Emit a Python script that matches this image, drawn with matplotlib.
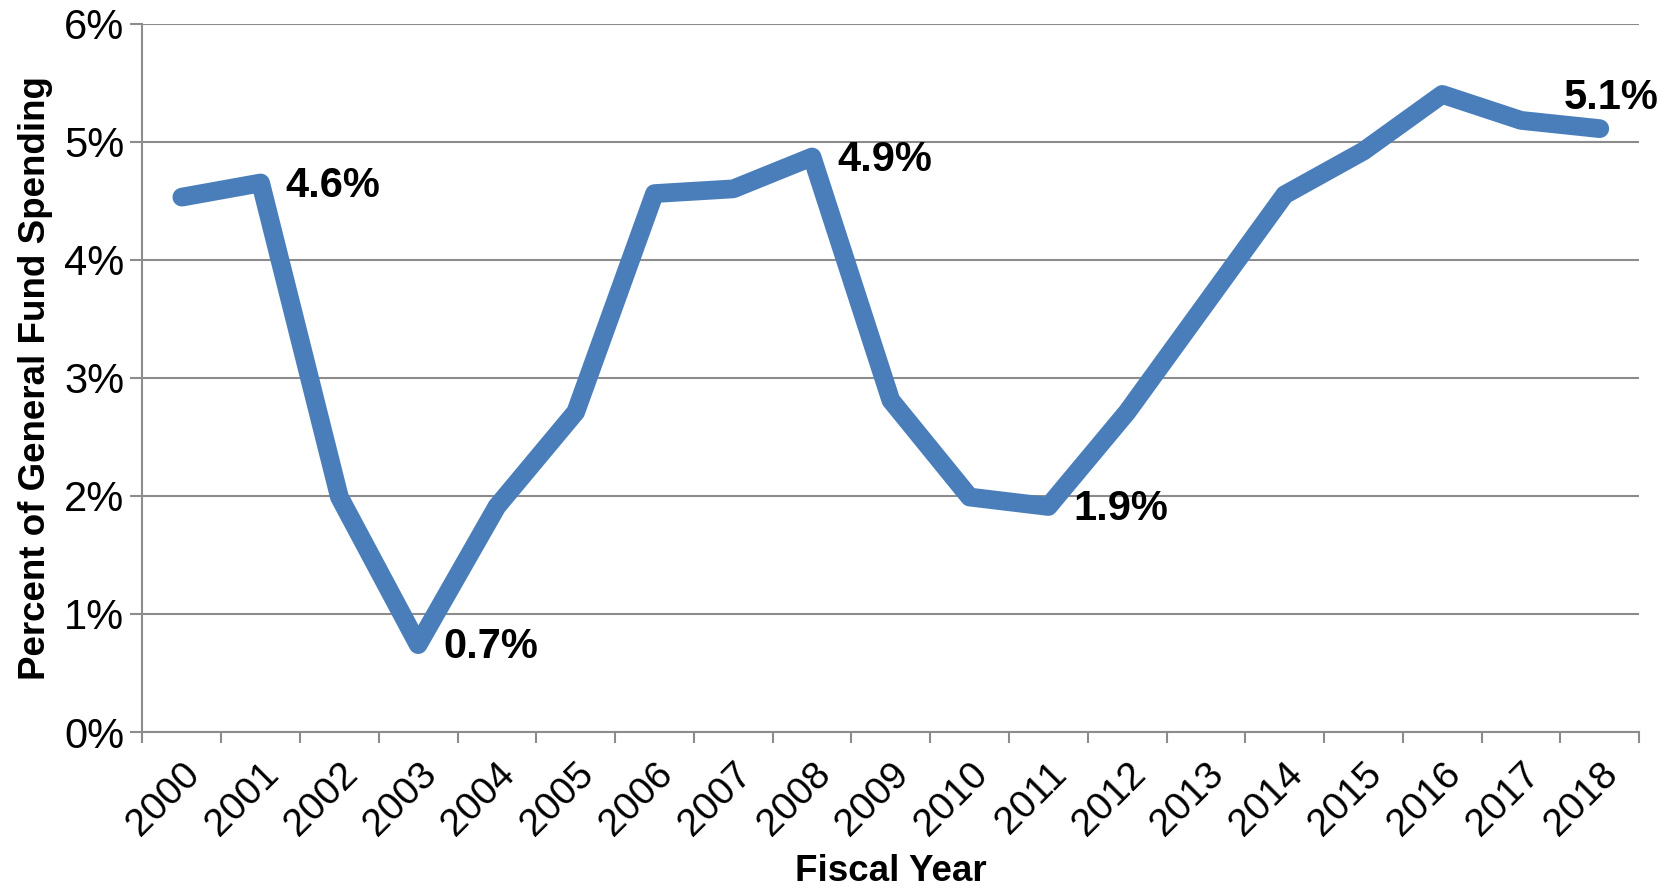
import numpy as np
import matplotlib
matplotlib.use("Agg")
import matplotlib.pyplot as plt
from matplotlib.ticker import FuncFormatter, MultipleLocator

plt.rcParams['font.family'] = ['Liberation Sans', 'DejaVu Sans']

years = [str(y) for y in range(2000, 2019)]
share = [4.53, 4.65, 1.99, 0.74, 1.91, 2.71, 4.56, 4.60, 4.87, 2.81,
         1.99, 1.91, 2.71, 3.63, 4.55, 4.92, 5.40, 5.18, 5.11]

# labelled points: index, text
labels = [(1, '4.6%'), (3, '0.7%'), (8, '4.9%'), (11, '1.9%'), (18, '5.1%')]

fig = plt.figure(figsize=(16.8, 8.89), dpi=100)
ax = fig.add_axes([0.0848, 0.1766, 0.8909, 0.7969])

x = np.arange(len(years))
ax.plot(x, share, color='#4a7ebb', lw=13.5, solid_capstyle='round',
        solid_joinstyle='round', zorder=3)

ax.set_xlim(-0.5, len(years) - 0.5)
ax.set_ylim(0, 6)
ax.yaxis.set_major_locator(MultipleLocator(1))
ax.yaxis.set_major_formatter(FuncFormatter(lambda v, p: f'{v:.0f}%'))
ax.grid(axis='y', color='#8c8c8c', lw=1.5, zorder=0)

ax.set_xticks(x)
ax.set_xticklabels(years, rotation=45, ha='right', va='top',
                   rotation_mode='anchor')
ax.set_xticks(np.arange(-0.5, len(years)), minor=True)
ax.tick_params(axis='x', which='major', length=0, labelsize=28, pad=17)
ax.tick_params(axis='x', which='minor', length=8, width=1.5, color='#8c8c8c')
ax.tick_params(axis='y', length=9, width=1.5, color='#8c8c8c', labelsize=30, pad=4)

for s in ['top', 'right']:
    ax.spines[s].set_visible(False)
for s in ['left', 'bottom']:
    ax.spines[s].set_color('#8c8c8c')
    ax.spines[s].set_linewidth(1.5)

for i, t in labels:
    if i == 18:
        ax.annotate(t, (x[i], share[i]), xytext=(8, 8), textcoords='offset points',
                    ha='center', va='bottom', fontsize=30, fontweight='bold')
    else:
        ax.annotate(t, (x[i], share[i]), xytext=(18, -2), textcoords='offset points',
                    ha='left', va='center', fontsize=30, fontweight='bold')

ax.set_xlabel('Fiscal Year', fontsize=26.5, fontweight='bold', labelpad=8)
ax.set_ylabel('Percent of General Fund Spending', fontsize=26.5, fontweight='bold',
              labelpad=8)

fig.savefig('out.png', dpi=100)
